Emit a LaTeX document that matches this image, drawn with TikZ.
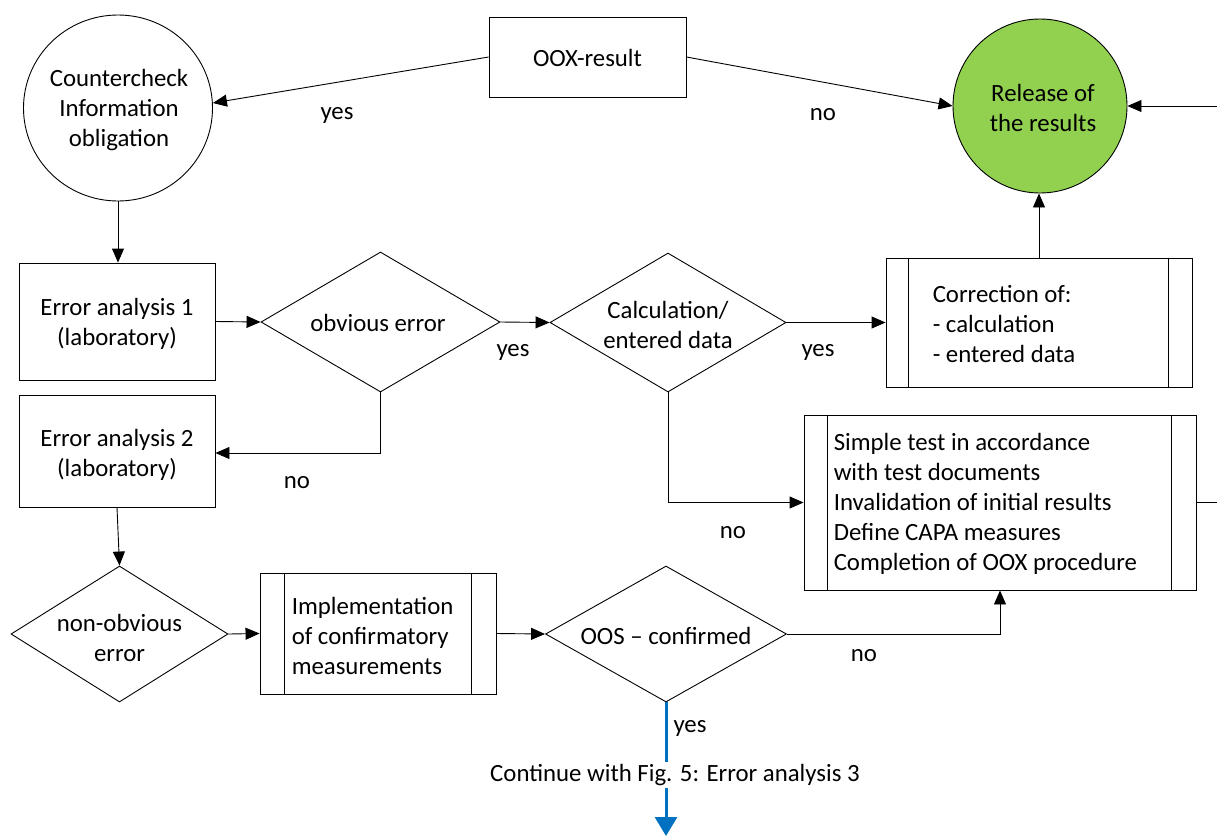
\documentclass[tikz,border=0pt]{standalone}
\usepackage{fontspec}
\setmainfont{Carlito}
\usetikzlibrary{shapes.geometric,arrows.meta}
\definecolor{relgreen}{RGB}{146,208,80}
\definecolor{flowblue}{RGB}{0,112,192}
\begin{document}
\begin{tikzpicture}[x=1pt,y=-1pt,
  every node/.style={font=\fontsize{24.8}{30}\selectfont},
  box/.style={draw,line width=0.9pt,inner sep=0pt},
  proc/.style={draw,line width=0.9pt,inner sep=0pt},
  dia/.style={draw,diamond,line width=0.9pt,inner sep=0pt},
  circ/.style={draw,ellipse,line width=0.9pt,inner sep=0pt},
  txt/.style={inner sep=0pt,align=center},
  ltxt/.style={inner sep=0pt,align=left,anchor=west},
  conn/.style={line width=0.9pt,-{Triangle[length=14pt,width=12pt]}},
  plain/.style={line width=0.9pt},
  bluearrow/.style={line width=3pt,draw=flowblue,-{Triangle[length=19pt,width=22pt]}}
]
\useasboundingbox (0,0) rectangle (1217,838);

% nodes
\node[circ,minimum width=189,minimum height=186] (cc) at (118,108) {};
\node[txt] at (119,110) {Countercheck\\Information\\obligation};

\node[box,minimum width=197,minimum height=80] (oox) at (587.5,57) {};
\node[txt] at (587.5,58) {OOX-result};

\node[circ,fill=relgreen,minimum width=174,minimum height=174] (rel) at (1040,106) {};
\node[txt] at (1043,108) {Release of\\the results};
\coordinate (relin) at (1217,106);

\node[box,minimum width=196,minimum height=117] (ea1) at (117,321.5) {};
\node[txt] at (117,324) {Error analysis 1\\(laboratory)};

\node[dia,minimum width=239,minimum height=140] (obv) at (380.5,322) {};
\node[txt] at (378,323) {obvious error};

\node[dia,minimum width=236,minimum height=139] (calc) at (668,322.5) {};
\node[txt] at (668,325) {Calculation/\\entered data};

\node[proc,minimum width=306,minimum height=129] (corr) at (1039,322.5) {};
\draw[plain] ([xshift=23]corr.north west) -- ([xshift=23]corr.south west);
\draw[plain] ([xshift=-24]corr.north east) -- ([xshift=-24]corr.south east);
\node[ltxt] at ([xshift=47,yshift=-2]corr.west) {Correction of:\\- calculation\\- entered data};

\node[box,minimum width=196,minimum height=112] (ea2) at (117,451) {};
\node[txt] at (117,455) {Error analysis 2\\(laboratory)};

\node[proc,minimum width=392,minimum height=175] (simp) at (1000,502.5) {};
\draw[plain] ([xshift=24]simp.north west) -- ([xshift=24]simp.south west);
\draw[plain] ([xshift=-25]simp.north east) -- ([xshift=-25]simp.south east);
\node[ltxt] at ([xshift=30,yshift=-1]simp.west) {Simple test in accordance\\with test documents\\Invalidation of initial results\\Define CAPA measures\\Completion of OOX procedure};
\coordinate (simpout) at (1217,502.5);

\node[dia,minimum width=217,minimum height=136] (nonob) at (119.5,634) {};
\node[txt] at (119.5,638) {non-obvious\\error};

\node[proc,minimum width=236,minimum height=121] (impl) at (378,633.5) {};
\draw[plain] ([xshift=25]impl.north west) -- ([xshift=25]impl.south west);
\draw[plain] ([xshift=-25]impl.north east) -- ([xshift=-25]impl.south east);
\node[ltxt] at ([xshift=32,yshift=-2]impl.west) {Implementation\\of confirmatory\\measurements};

\node[dia,minimum width=241,minimum height=136] (oos) at (666,634) {};
\node[txt] at (666,636) {OOS -- confirmed};

\coordinate (contend) at (666,836);

% connectors
\draw[conn] (oox.west) -- ([yshift=5]cc.east);
\draw[conn] (oox.east) -- (rel.west);
\draw[conn] (relin) -- (rel.east);
\draw[conn] (cc.south) -- (cc.south |- ea1.north);
\draw[conn] (ea1.east) -- (obv.west);
\draw[conn] (obv.east) -- (calc.west);
\draw[conn] (calc.east) -- (corr.west);
\draw[conn] (corr.north) -- (corr.north |- rel.south);
\draw[conn] (obv.south) |- ([yshift=-2]ea2.east);
\draw[conn] (calc.south) |- (simp.west);
\draw[plain] (simp.east) -- (simpout);
\draw[conn] (ea2.south) -- (nonob.north);
\draw[conn] (nonob.east) -- (impl.west);
\draw[conn] (impl.east) -- (oos.west);
\draw[conn] (oos.east) -| (simp.south);
\draw[bluearrow] (oos.south) -- (contend);
\node[inner sep=2pt,fill=white] (cont) at (675,775) {Continue with Fig. 5: Error analysis 3};

% labels
\node[txt] (l1) at (337,115) {yes};
\node[txt] (l2) at (823,115) {no};
\node[txt] (l3) at (513,352) {yes};
\node[txt] (l4) at (818,352) {yes};
\node[txt] (l5) at (297,483) {no};
\node[txt] (l6) at (733,533) {no};
\node[txt] (l7) at (864,656) {no};
\node[txt] (l8) at (690,728) {yes};
\end{tikzpicture}
\end{document}
